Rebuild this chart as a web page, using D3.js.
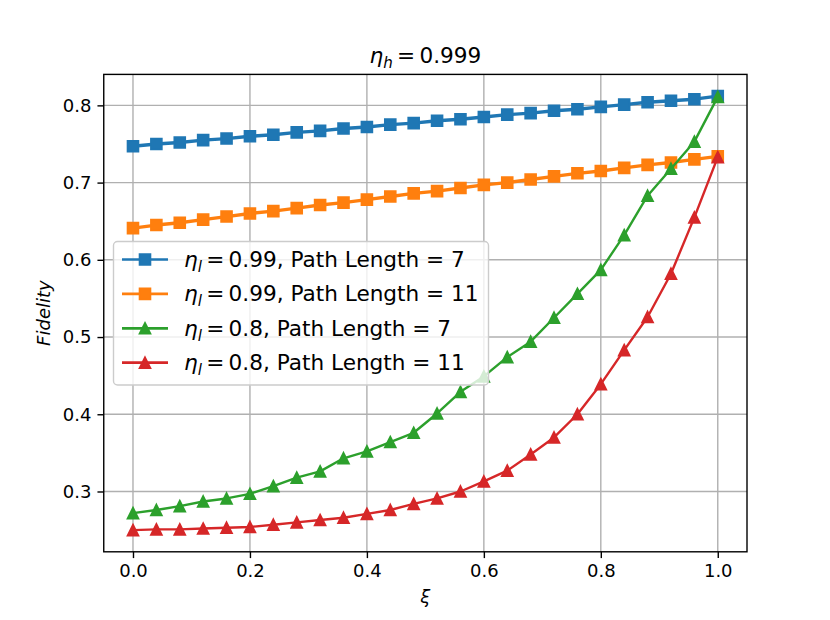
<!DOCTYPE html>
<html>
<head>
<meta charset="utf-8">
<script src="https://cdn.jsdelivr.net/npm/d3@7"></script>
<style>
  body { margin: 0; background: #fff; }
  svg text { font-family: "DejaVu Sans", sans-serif; fill: #000; }
</style>
</head>
<body>
<div id="chart"></div>
<script>
// x values (xi) and the four fidelity curves
var xi = [0.00, 0.04, 0.08, 0.12, 0.16, 0.20, 0.24, 0.28, 0.32, 0.36, 0.40, 0.44, 0.48,
          0.52, 0.56, 0.60, 0.64, 0.68, 0.72, 0.76, 0.80, 0.84, 0.88, 0.92, 0.96, 1.00];

var fid_099_7 = [0.747, 0.750, 0.752, 0.755, 0.757, 0.760, 0.762, 0.765, 0.767, 0.770, 0.772, 0.775, 0.777,
                 0.780, 0.782, 0.785, 0.788, 0.790, 0.793, 0.795, 0.798, 0.801, 0.804, 0.806, 0.808, 0.812];
var fid_099_11 = [0.641, 0.645, 0.648, 0.652, 0.656, 0.660, 0.663, 0.667, 0.671, 0.674, 0.678, 0.682, 0.686,
                  0.689, 0.693, 0.697, 0.700, 0.704, 0.708, 0.712, 0.715, 0.719, 0.723, 0.726, 0.730, 0.734];
var fid_08_7 = [0.272, 0.276, 0.281, 0.287, 0.291, 0.297, 0.307, 0.318, 0.326, 0.343, 0.352, 0.364, 0.376,
                0.401, 0.429, 0.449, 0.474, 0.494, 0.525, 0.556, 0.587, 0.632, 0.683, 0.718, 0.753, 0.811];
var fid_08_11 = [0.250, 0.251, 0.251, 0.252, 0.253, 0.254, 0.257, 0.260, 0.263, 0.266, 0.271, 0.276, 0.284,
                 0.291, 0.300, 0.313, 0.327, 0.348, 0.370, 0.400, 0.439, 0.483, 0.526, 0.582, 0.655, 0.733];

var etaL = ["0.99", "0.99", "0.8", "0.8"];
var pathLen = ["7", "11", "7", "11"];
var xTicks = [0.0, 0.2, 0.4, 0.6, 0.8, 1.0];
var yTicks = [0.3, 0.4, 0.5, 0.6, 0.7, 0.8];

var series = [
  {values: fid_099_7,  color: "#1f77b4", marker: "square",   lw: 3.4},
  {values: fid_099_11, color: "#ff7f0e", marker: "square",   lw: 3.4},
  {values: fid_08_7,   color: "#2ca02c", marker: "triangle", lw: 2.4},
  {values: fid_08_11,  color: "#d62728", marker: "triangle", lw: 2.4}
];

var W = 830, H = 620;
var pLeft = 103.75, pRight = 747, pTop = 74.4, pBottom = 551.8;
var fs = 18;       // 10pt at this dpi
var titlefs = 21.6;

function markerPath(kind) {
  var r = 5.4;
  if (kind == "square") {
    return "M" + (-r) + "," + (-r) + "H" + r + "V" + r + "H" + (-r) + "Z";
  }
  return "M0," + (-r) + "L" + r + "," + r + "L" + (-r) + "," + r + "Z";
}

// math-ish label: italic eta with an italic subscript, then the rest
function mathLabel(sel, sub, rest, size) {
  sel.append("tspan").attr("font-style", "italic").text("η");
  sel.append("tspan").attr("font-style", "italic").attr("font-size", size * 0.7)
     .attr("dy", size * 0.22).text(sub);
  sel.append("tspan").attr("dy", -size * 0.22).attr("dx", size * 0.2).text("=");
  sel.append("tspan").attr("dx", size * 0.2).text(rest);
}

function drawit() {
  var svg = d3.select("#chart").append("svg").attr("width", W).attr("height", H);

  var allv = [].concat(fid_099_7, fid_099_11, fid_08_7, fid_08_11);
  var ymin = d3.min(allv), ymax = d3.max(allv);
  var ypad = (ymax - ymin) * 0.05;

  var x = d3.scaleLinear().domain([-0.05, 1.05]).range([pLeft, pRight]);
  var y = d3.scaleLinear().domain([ymin - ypad, ymax + ypad]).range([pBottom, pTop]);

  // grid
  var grid = svg.append("g");
  grid.selectAll("line.gx").data(xTicks).enter().append("line")
    .attr("x1", function(d) { return x(d); }).attr("x2", function(d) { return x(d); })
    .attr("y1", pTop).attr("y2", pBottom)
    .attr("stroke", "#b0b0b0").attr("stroke-width", 1.4);
  grid.selectAll("line.gy").data(yTicks).enter().append("line")
    .attr("y1", function(d) { return y(d); }).attr("y2", function(d) { return y(d); })
    .attr("x1", pLeft).attr("x2", pRight)
    .attr("stroke", "#b0b0b0").attr("stroke-width", 1.4);

  // curves
  var line = d3.line().x(function(d, i) { return x(xi[i]); }).y(function(d) { return y(d); });
  series.forEach(function(s) {
    var g = svg.append("g");
    g.append("path").datum(s.values).attr("d", line)
      .attr("fill", "none").attr("stroke", s.color).attr("stroke-width", s.lw)
      .attr("stroke-linejoin", "round");
    g.selectAll("path.m").data(s.values).enter().append("path")
      .attr("transform", function(d, i) { return "translate(" + x(xi[i]) + "," + y(d) + ")"; })
      .attr("d", markerPath(s.marker))
      .attr("fill", s.color).attr("stroke", s.color).attr("stroke-width", 1.8)
      .attr("stroke-linejoin", "miter");
  });

  // axes
  var xAxis = d3.axisBottom(x).tickValues(xTicks).tickSize(6.3).tickPadding(6)
    .tickFormat(d3.format(".1f"));
  var yAxis = d3.axisLeft(y).tickValues(yTicks).tickSize(6.3).tickPadding(6)
    .tickFormat(d3.format(".1f"));
  var gx = svg.append("g").attr("transform", "translate(0," + pBottom + ")").call(xAxis);
  var gy = svg.append("g").attr("transform", "translate(" + pLeft + ",0)").call(yAxis);
  [gx, gy].forEach(function(g) {
    g.select(".domain").remove();
    g.selectAll(".tick line").attr("stroke", "#000").attr("stroke-width", 1.4);
    g.selectAll(".tick text").attr("font-size", fs).attr("font-family", "DejaVu Sans").attr("fill", "#000");
  });

  // frame
  svg.append("rect").attr("x", pLeft).attr("y", pTop)
    .attr("width", pRight - pLeft).attr("height", pBottom - pTop)
    .attr("fill", "none").attr("stroke", "#000").attr("stroke-width", 1.4);

  // title
  var t = svg.append("text").attr("x", (pLeft + pRight) / 2).attr("y", 63)
    .attr("text-anchor", "middle").attr("font-size", titlefs);
  mathLabel(t, "h", "0.999", titlefs);

  // axis labels
  svg.append("text").attr("x", (pLeft + pRight) / 2).attr("y", 603)
    .attr("text-anchor", "middle").attr("font-size", fs).attr("font-style", "italic").text("ξ");
  svg.append("text").attr("transform", "translate(50," + ((pTop + pBottom) / 2) + ") rotate(-90)")
    .attr("text-anchor", "middle").attr("font-size", fs).attr("font-style", "italic").text("Fidelity");

  // legend
  var lg = svg.append("g");
  lg.append("rect").attr("x", 113.5).attr("y", 241.5).attr("width", 375).attr("height", 143.5)
    .attr("rx", 4).attr("fill", "#fff").attr("fill-opacity", 0.8)
    .attr("stroke", "#cccccc").attr("stroke-width", 1.4);
  series.forEach(function(s, i) {
    var cy = 259.5 + i * 34.4;
    lg.append("line").attr("x1", 122).attr("x2", 168).attr("y1", cy).attr("y2", cy)
      .attr("stroke", s.color).attr("stroke-width", 2.7);
    lg.append("path").attr("transform", "translate(145," + cy + ")")
      .attr("d", markerPath(s.marker)).attr("fill", s.color)
      .attr("stroke", s.color).attr("stroke-width", 1.8);
    var txt = lg.append("text").attr("x", 184).attr("y", cy + 7.5).attr("font-size", titlefs);
    mathLabel(txt, "l", etaL[i], titlefs);
    txt.append("tspan").text(", Path Length = " + pathLen[i]);
  });
}

drawit();
</script>
</body>
</html>
